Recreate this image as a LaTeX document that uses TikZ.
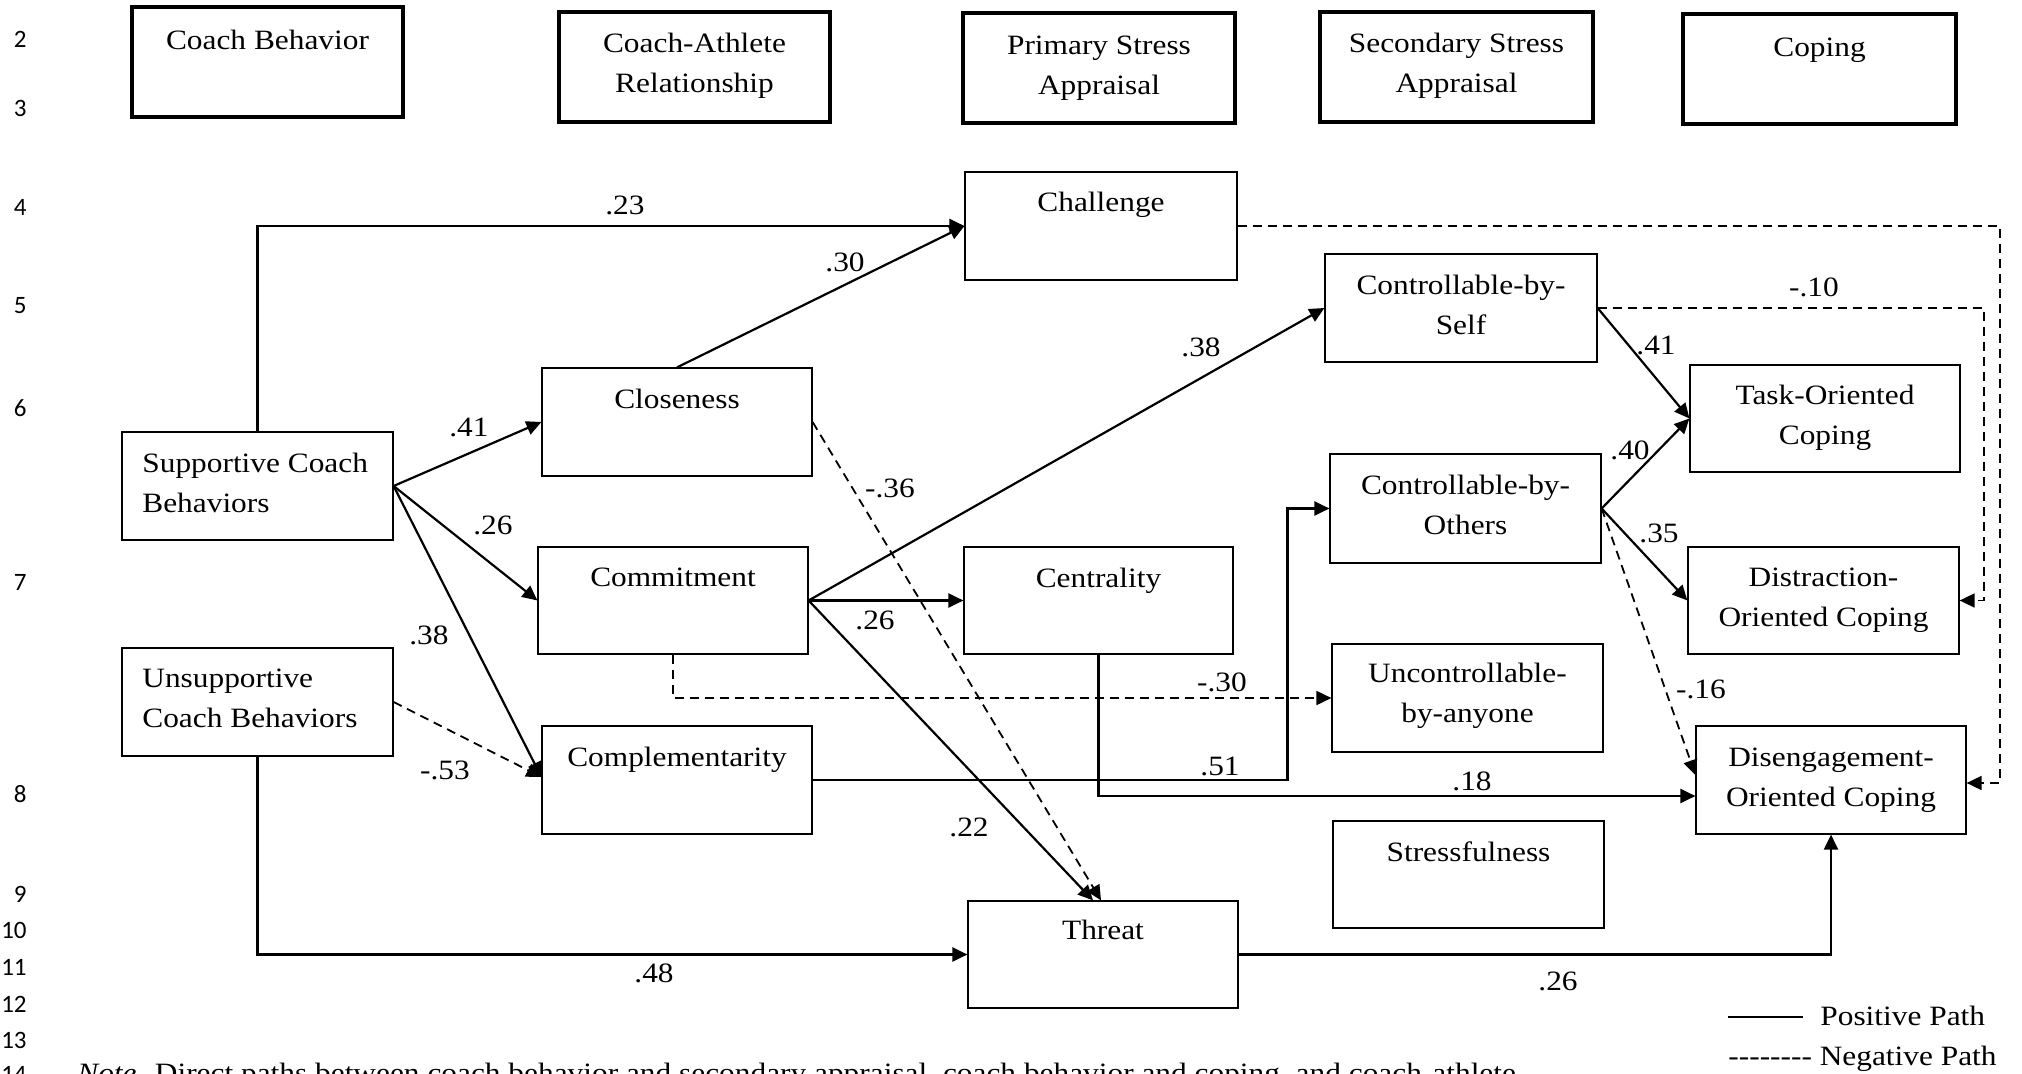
\documentclass[tikz,border=0pt]{standalone}
\usepackage{fontspec}
\setmainfont{Liberation Serif}[FakeStretch=1.12]
\newfontfamily\numfont{Carlito}
\usetikzlibrary{arrows.meta,fit}
\begin{document}
\begin{tikzpicture}[x=0.5pt,y=-0.5pt,
  every node/.style={font=\fontsize{14}{20}\selectfont},
  hdr/.style={draw, line width=2pt, inner sep=0pt},
  bx/.style={draw, line width=0.6pt, inner sep=0pt},
  btxt/.style={anchor=north, inner sep=0pt, align=center},
  ltxt/.style={anchor=north west, inner sep=0pt, align=left},
  posarr/.style={line width=1.1pt, -{Triangle[length=7.5pt,width=7pt]}},
  negarr/.style={posarr, line width=0.9pt, dash pattern=on 4.5pt off 3pt},
  lab/.style={inner sep=0pt},
  lnum/.style={font=\numfont\fontsize{12.5}{15}\selectfont, anchor=base east, inner sep=0pt}
]
\path[use as bounding box] (0,0) rectangle (2022,1074);
\clip (0,0) rectangle (2022,1074);

% line numbers
\node[lnum] (n2) at (27,48) {2};
\node[lnum] (n3) at (27,117) {3};
\node[lnum] (n4) at (27,216) {4};
\node[lnum] (n5) at (27,314) {5};
\node[lnum] (n6) at (27,417) {6};
\node[lnum] (n7) at (27,590) {7};
\node[lnum] (n8) at (27,802) {8};
\node[lnum] (n9) at (27,902) {9};
\node[lnum] (n10) at (27,938) {10};
\node[lnum] (n11) at (27,975) {11};
\node[lnum] (n12) at (27,1012) {12};
\node[lnum] (n13) at (27,1048) {13};
\node[lnum] (n14) at (27,1082) {14};

% header boxes
\node[hdr, fit={(132,7)(403,117)}] (hCB) {};
\node[btxt] (hCBt) at (267.5,21) {\strut Coach Behavior};
\node[hdr, fit={(559,12)(830,122)}] (hCA) {};
\node[btxt] (hCAt) at (694.5,24) {\strut Coach-Athlete\\Relationship};
\node[hdr, fit={(963,13)(1235,123)}] (hPS) {};
\node[btxt] (hPSt) at (1099,26) {\strut Primary Stress\\Appraisal};
\node[hdr, fit={(1320,12)(1593,122)}] (hSS) {};
\node[btxt] (hSSt) at (1456.5,24) {\strut Secondary Stress\\Appraisal};
\node[hdr, fit={(1683,14)(1956,124)}] (hCo) {};
\node[btxt] (hCot) at (1819.5,28) {\strut Coping};

% main boxes
\node[bx, fit={(122,432)(393,540)}] (SCB) {};
\node[ltxt] (SCBt) at (142,444) {\strut Supportive Coach\\Behaviors};
\node[bx, fit={(122,648)(393,756)}] (UCB) {};
\node[ltxt] (UCBt) at (142,659) {\strut Unsupportive\\Coach Behaviors};

\node[bx, fit={(542,368)(812,476)}] (Clos) {};
\node[btxt] (Clost) at (677,380) {\strut Closeness};
\node[bx, fit={(538,547)(808,654)}] (Comm) {};
\node[btxt] (Commt) at (673,558) {\strut Commitment};
\node[bx, fit={(542,726)(812,834)}] (Comp) {};
\node[btxt] (Compt) at (677,738) {\strut Complementarity};

\node[bx, fit={(965,172)(1237,280)}] (Chal) {};
\node[btxt] (Chalt) at (1101,183) {\strut Challenge};
\node[bx, fit={(964,547)(1233,654)}] (Cent) {};
\node[btxt] (Centt) at (1098.5,559) {\strut Centrality};
\node[bx, fit={(968,901)(1238,1008)}] (Thr) {};
\node[btxt] (Thrt) at (1103,911) {\strut Threat};

\node[bx, fit={(1325,254)(1597,362)}] (CbS) {};
\node[btxt] (CbSt) at (1461,266) {\strut Controllable-by-\\Self};
\node[bx, fit={(1330,454)(1601,563)}] (CbO) {};
\node[btxt] (CbOt) at (1465.5,466) {\strut Controllable-by-\\Others};
\node[bx, fit={(1332,644)(1603,752)}] (Unc) {};
\node[btxt] (Unct) at (1467.5,654) {\strut Uncontrollable-\\by-anyone};
\node[bx, fit={(1333,821)(1604,928)}] (Str) {};
\node[btxt] (Strt) at (1468.5,833) {\strut Stressfulness};

\node[bx, fit={(1690,365)(1960,472)}] (Task) {};
\node[btxt] (Taskt) at (1825,376) {\strut Task-Oriented\\Coping};
\node[bx, fit={(1688,547)(1959,654)}] (Dist) {};
\node[btxt] (Distt) at (1823.5,558) {\strut Distraction-\\Oriented Coping};
\node[bx, fit={(1696,726)(1966,834)}] (Dis) {};
\node[btxt] (Dist2) at (1831,738) {\strut Disengagement-\\Oriented Coping};

% connectors
\draw[posarr] (SCB.north) |- (Chal.west);
\draw[posarr] (SCB.east) -- (Clos.west);
\draw[posarr] (SCB.east) -- (Comm.west);
\draw[posarr] (SCB.east) -- ([yshift=1.5pt]Comp.west);
\draw[negarr] (UCB.east) -- ([yshift=1.5pt]Comp.west);
\draw[posarr] (UCB.south) |- (Thr.west);
\draw[posarr] (Clos.north) -- (Chal.west);
\draw[negarr] (Clos.east) -- ([xshift=-1pt]Thr.north);
\draw[posarr] (Comm.east) -- (Cent.west);
\draw[posarr] (Comm.east) -- (CbS.west);
\draw[posarr] (Comm.east) -- ([xshift=-5pt]Thr.north);
\draw[negarr] (Comm.south) |- (Unc.west);
\draw[posarr] (Comp.east) -| ([xshift=-21pt]CbO.west) -- (CbO.west);
\draw[posarr] (Cent.south) |- ([yshift=-8pt]Dis.west);
\draw[posarr] (Thr.east) -| (Dis.south);
\draw[negarr] (Chal.east) -| ([xshift=16.5pt,yshift=-1.5pt]Dis.east) -- ([yshift=-1.5pt]Dis.east);
\draw[negarr] (CbS.east) -| ([xshift=12pt]Dist.east) -- (Dist.east);
\draw[posarr] (CbS.east) -- (Task.west);
\draw[posarr] (CbO.east) -- (Task.west);
\draw[posarr] (CbO.east) -- (Dist.west);
\draw[negarr] (CbO.east) -- ([yshift=2.5pt]Dis.west);

% path labels
\node[lab] (l1) at (625,205) {.23};
\node[lab] (l2) at (469,427) {.41};
\node[lab] (l3) at (493,525) {.26};
\node[lab] (l4) at (429,635) {.38};
\node[lab] (l5) at (445,770) {-.53};
\node[lab] (l6) at (654,973) {.48};
\node[lab] (l7) at (845,262) {.30};
\node[lab] (l8) at (890,488) {-.36};
\node[lab] (l9) at (875,620) {.26};
\node[lab] (l10) at (1201,347) {.38};
\node[lab] (l11) at (969,827) {.22};
\node[lab] (l12) at (1222,682) {-.30};
\node[lab] (l13) at (1220,766) {.51};
\node[lab] (l14) at (1472,781) {.18};
\node[lab] (l15) at (1558,981) {.26};
\node[lab] (l16) at (1814,287) {-.10};
\node[lab] (l17) at (1656,345) {.41};
\node[lab] (l18) at (1630,450) {.40};
\node[lab] (l19) at (1659,533) {.35};
\node[lab] (l20) at (1701,689) {-.16};

% legend
\coordinate (lp1) at (1728,1017);
\coordinate (lp2) at (1803,1017);
\draw[line width=1pt] (lp1) -- (lp2);
\node[anchor=base west, inner sep=0pt] (legP) at (1820,1025) {Positive Path};
\node[anchor=base west, inner sep=0pt] (legN) at (1728,1065) {-{}-{}-{}-{}-{}-{}-{}- Negative Path};

% note (cut by the page edge, as in the reference)
\node[anchor=base west, inner sep=0pt] (note) at (77,1082) {\textit{Note.} Direct paths between coach behavior and secondary appraisal, coach behavior and coping, and coach-athlete};
\end{tikzpicture}
\end{document}
